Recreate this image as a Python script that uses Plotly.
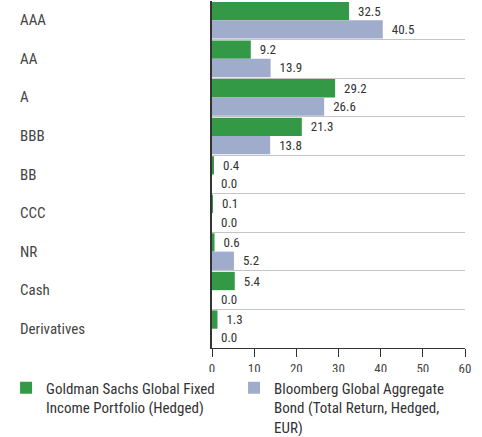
import plotly.graph_objects as go

categories = ["AAA", "AA", "A", "BBB", "BB", "CCC", "NR", "Cash", "Derivatives"]
gs_fund = [32.5, 9.2, 29.2, 21.3, 0.4, 0.1, 0.6, 5.4, 1.3]
bloomberg = [40.5, 13.9, 26.6, 13.8, 0.0, 0.0, 5.2, 0.0, 0.0]
series_names = [
    "Goldman Sachs Global Fixed<br>Income Portfolio (Hedged)",
    "Bloomberg Global Aggregate<br>Bond (Total Return, Hedged,<br>EUR)",
]
x_ticks = [0, 10, 20, 30, 40, 50, 60]

FONT = "Roboto Condensed, DejaVu Sans Condensed, sans-serif"
GREEN = "#349946"
BLUE = "#9FACCB"

fig = go.Figure()
for name, vals, col in [(series_names[0], gs_fund, GREEN), (series_names[1], bloomberg, BLUE)]:
    fig.add_trace(go.Bar(
        y=categories, x=vals, name=name, orientation="h",
        marker=dict(color=col, line=dict(width=0)),
        text=[f"{v:.1f}" for v in vals],
        texttemplate="\u00a0\u00a0%{text}",
        textposition="outside", cliponaxis=False,
        textfont=dict(family=FONT, size=13, color="#333333"),
    ))

for c in categories:
    fig.add_annotation(
        x=-0.767, xref="paper", y=c, yref="y", text=c, showarrow=False,
        xanchor="left", yanchor="middle",
        font=dict(family=FONT, size=15, color="#444444"),
    )

fig.update_layout(
    width=482, height=437,
    margin=dict(l=212, r=17, t=1, b=89, autoexpand=False),
    paper_bgcolor="white", plot_bgcolor="white",
    barmode="group", bargap=0.05, bargroupgap=0,
    font=dict(family=FONT, color="#333333"),
    showlegend=True,
    legend=dict(
        orientation="h", x=-0.814, xanchor="left", y=-0.068, yanchor="top",
        font=dict(family=FONT, size=15, color="#333333"),
        entrywidth=183, entrywidthmode="pixels", valign="top",
        traceorder="normal", itemclick=False,
    ),
    xaxis=dict(
        range=[0, 60], tickvals=x_ticks, showgrid=False, zeroline=False,
        showline=True, linecolor="#333333", linewidth=1.2,
        ticks="outside", ticklen=8, tickcolor="#333333", tickwidth=1.2,
        tickfont=dict(family=FONT, size=13, color="#444444"),
        automargin=False,
    ),
    yaxis=dict(
        autorange="reversed", showticklabels=False, ticks="",
        tickson="boundaries", showgrid=True, gridcolor="#c4c4c4", gridwidth=1,
        showline=True, linecolor="#333333", linewidth=1.5, zeroline=False,
        automargin=False,
    ),
)

fig.write_html("out.html", config={"displayModeBar": False},
               post_script="document.body.style.margin='0';")
